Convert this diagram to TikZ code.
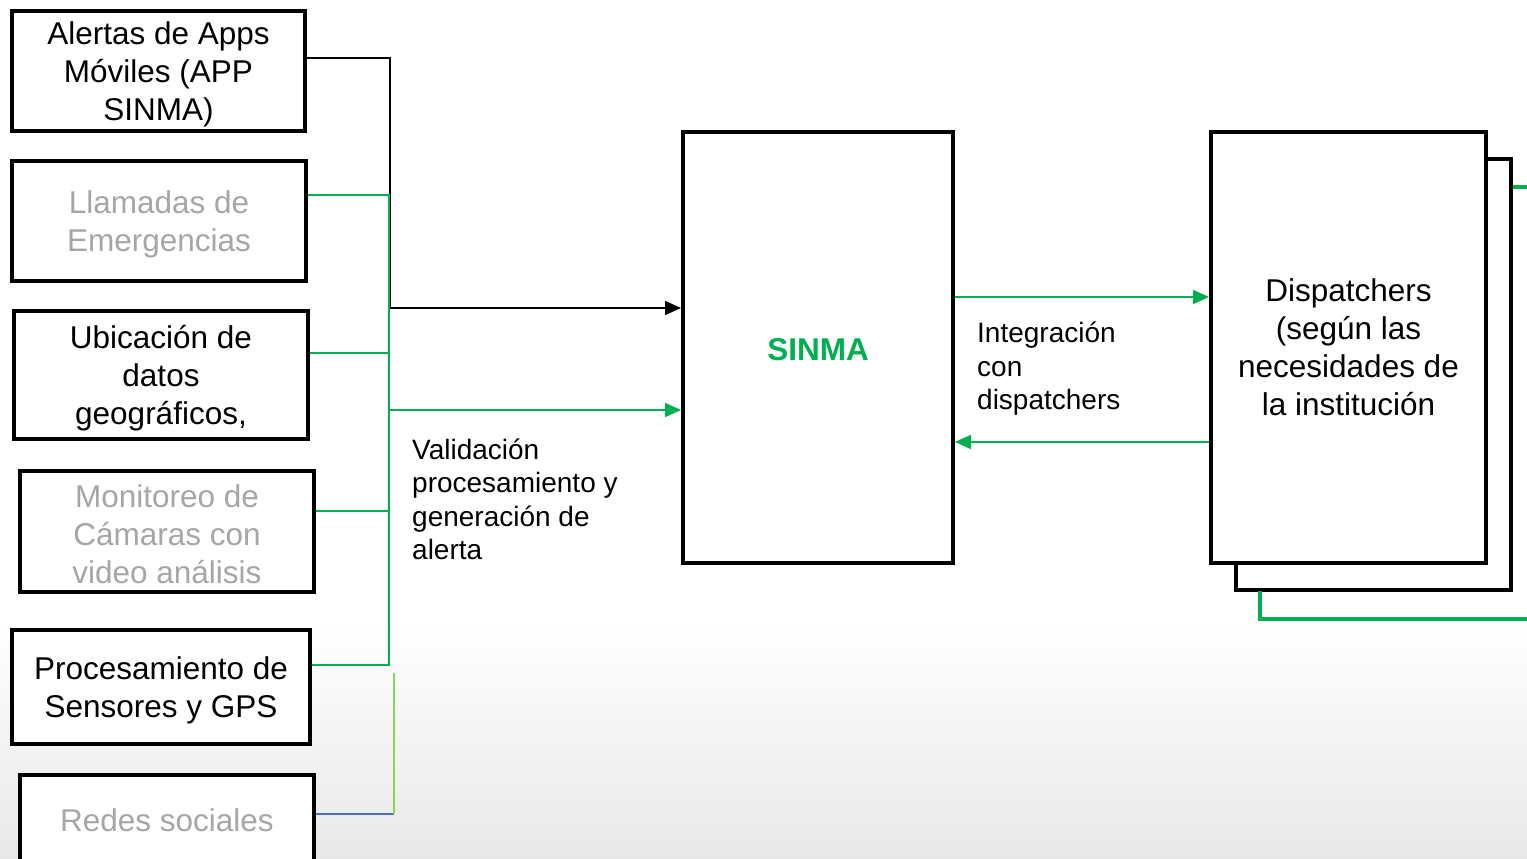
\documentclass[tikz,border=0pt]{standalone}
\usepackage{fontspec}
\setmainfont{Liberation Sans}
\usetikzlibrary{arrows.meta}
\definecolor{pgreen}{HTML}{00B050}
\definecolor{lgreen}{HTML}{92D050}
\definecolor{pblue}{HTML}{4472C4}
\definecolor{tgray}{HTML}{A6A6A6}
\tikzset{
  inbox/.style={draw=black, line width=4pt, fill=white, inner sep=0pt},
  intext/.style={align=center, inner sep=0pt, yshift=-3.5pt,
    font=\fontsize{31.5}{38}\selectfont},
  graytext/.style={text=tgray},
  bigbox/.style={draw=black, line width=4pt, fill=white, align=center, inner sep=0pt,
    minimum width=270pt, minimum height=430pt},
  lbl/.style={align=left, inner sep=0pt, anchor=west, font=\fontsize{28}{33.5}\selectfont},
  blk/.style={draw=black, line width=1.6pt},
  grn/.style={draw=pgreen, line width=1.8pt},
  tip/.style={-{Triangle[length=16pt,width=14pt]}},
  thickgrn/.style={draw=pgreen, line width=4pt}
}
\begin{document}
\begin{tikzpicture}[x=1pt,y=-1pt]
\useasboundingbox (0,0) rectangle (1527,859);
\clip (0,0) rectangle (1527,859);
\shade[top color=white, bottom color=black!9] (0,620) rectangle (1527,859);

% left boxes
\node[inbox, minimum width=293pt, minimum height=120pt,
  label={[intext]center:{Alertas de Apps\\Móviles (APP\\SINMA)}}] (alertas) at (158.5,71) {};
\node[inbox, minimum width=294pt, minimum height=120pt,
  label={[intext, graytext]center:{Llamadas de\\Emergencias}}] (llamadas) at (159,221) {};
\node[inbox, minimum width=294pt, minimum height=128pt,
  label={[intext]center:{Ubicación de\\datos\\geográficos,}}] (ubicacion) at (161,375) {};
\node[inbox, minimum width=294pt, minimum height=121pt,
  label={[intext, graytext]center:{Monitoreo de\\Cámaras con\\video análisis}}] (monitoreo) at (167,531) {};
\node[inbox, minimum width=298pt, minimum height=114pt,
  label={[intext]center:{Procesamiento de\\Sensores y GPS}}] (procesa) at (161,687) {};
\node[inbox, minimum width=294pt, minimum height=88pt,
  label={[intext, graytext, yshift=2pt]center:{Redes sociales}}] (redes) at (167,819) {};

% central box
\node[bigbox, minimum width=270pt, minimum height=431pt,
  label={[intext, yshift=1.5pt, font=\fontsize{31.5}{38}\selectfont\bfseries, text=pgreen]center:{SINMA}}] (sinma) at (818,347.5) {};

% dispatchers stack
\node[bigbox, minimum width=275pt, minimum height=431pt] (dispback) at (1373.5,374.5) {};
\node[bigbox, minimum width=275pt, minimum height=431pt, font=\fontsize{31.5}{38}\selectfont] (disp) at (1348.5,347.5) {Dispatchers\\(según las\\necesidades de\\la institución};

\coordinate (jb) at (390,308);
\coordinate (jg) at (389,410);
\coordinate (gtop) at (389,195);
\coordinate (gbot) at (389,665);

% black connector
\draw[blk, tip] (alertas.east |- 0,58) -| (jb) -- (sinma.west |- jb);

% green connectors
\draw[grn] (llamadas.east |- gtop) -- (gtop) -- (gbot) -- (procesa.east |- gbot);
\draw[grn] (ubicacion.east |- 0,353) -- (389,353);
\draw[grn] (monitoreo.east |- 0,511) -- (389,511);
\draw[grn, tip] (jg) -- (sinma.west |- jg);

% light green / blue connector
\coordinate (lg) at (394,673);
\draw[draw=pblue, line width=1.6pt] (redes.east |- 0,814) -- (394,814);
\draw[draw=lgreen, line width=1.6pt] (394,814) -- (lg);

% dispatcher arrows
\draw[grn, tip] (sinma.east |- 0,297) -- (disp.west |- 0,297);
\draw[grn, tip] (disp.west |- 0,442) -- (sinma.east |- 0,442);

% outgoing thick green lines
\coordinate (outa) at (1530,187);
\coordinate (outb) at (1530,619);
\draw[thickgrn] (dispback.east |- outa) -- (outa);
\draw[thickgrn] (1260,591) |- (outb);

% labels
\node[lbl] (integ) at (977,369) {Integración\\con\\dispatchers};
\node[lbl] (valid) at (412,499.5) {Validación\\procesamiento y\\generación de\\alerta};
\end{tikzpicture}
\end{document}
